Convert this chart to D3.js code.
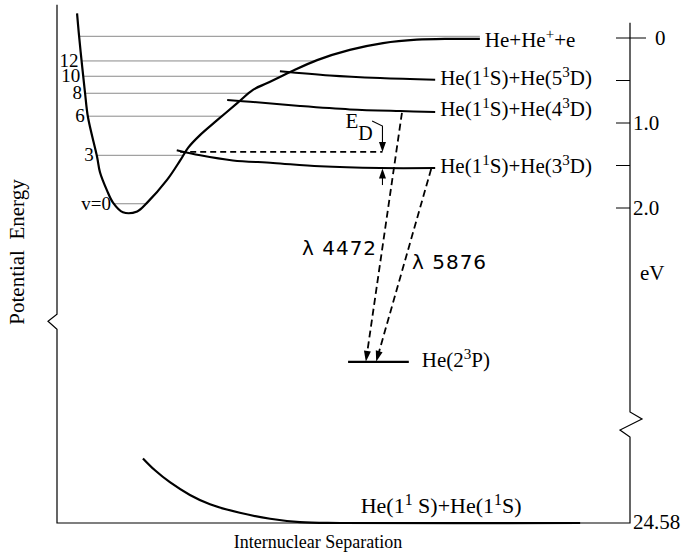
<!DOCTYPE html>
<html>
<head>
<meta charset="utf-8">
<script src="https://cdn.jsdelivr.net/npm/d3@7"></script>
<style>
  body { margin: 0; background: #fff; }
  svg { display: block; }
  text { font-family: "Liberation Serif", "Times New Roman", serif; fill: #000; }
  .sans { font-family: "DejaVu Sans", Verdana, sans-serif; letter-spacing: 1px; }
</style>
</head>
<body>
<svg id="chart" width="692" height="555"></svg>
<script>
// r = internuclear separation (arbitrary units), E = energy below the He ionization limit (eV)

// Bound excited He2 potential curve
const potentialCurve = [
  [0.35, -0.29], [0.38, -0.06], [0.44, 0.34], [0.49, 0.65], [0.54, 0.93],
  [0.70, 1.40], [0.75, 1.58], [0.87, 1.79], [0.98, 1.94], [1.15, 2.05],
  [1.40, 2.04], [1.57, 1.94], [1.92, 1.67], [2.15, 1.44], [2.29, 1.29],
  [2.50, 1.14], [2.79, 0.97], [3.14, 0.77], [3.42, 0.61], [3.67, 0.53],
  [4.07, 0.40], [4.54, 0.26], [5.11, 0.14], [5.69, 0.06], [6.28, 0.02],
  [6.86, 0.01], [7.38, 0.01]
];

// Repulsive ground-state curve He(1¹S)+He(1¹S)
const groundCurve = [
  [1.50, 23.82], [1.71, 23.96], [1.97, 24.10], [2.32, 24.25], [2.67, 24.36],
  [3.19, 24.46], [3.72, 24.53], [4.24, 24.57], [4.94, 24.58], [9.13, 24.58]
];

// Vibrational levels in the well
const vibLevels = [-0.02, 0.27, 0.45, 0.65, 0.92, 1.38, 1.95];
const vibLabels = ["", "12", "10", "8", "6", "3", "v=0"];

// Separated-atom states He(1¹S)+He(n³D)
const state5D = [[3.89, 0.39], [4.76, 0.44], [5.64, 0.47], [6.60, 0.49]];
const state4D = [[2.97, 0.73], [3.37, 0.75], [4.24, 0.80], [5.11, 0.84], [5.99, 0.86], [6.60, 0.87]];
const state3D = [[2.09, 1.32], [2.50, 1.38], [3.07, 1.44], [3.77, 1.47], [4.59, 1.51], [5.64, 1.53], [6.60, 1.53]];

// He(2³P) level
const level2P = { E: 3.81, r0: 5.08, r1: 6.14 };

// Radiative transitions to He(2³P)
const transitionNames = ["λ 4472", "λ 5876"];
const transitionFrom = [[6.02, 0.88], [6.53, 1.54]];
const transitionTo = [[5.39, 3.81], [5.57, 3.81]];

// Dissociation energy E_D marker
const eDLevel = 1.34;
const eDStart = 2.15;
const eDr = 5.68;
const eDTop = 1.035;
const eDHook = [5.50, 0.976];
const eDBottom = 1.73;
const eDTarget = 1.535;

// Right-hand energy axis
const energyTicks = [0, 0.5, 1.0, 1.5, 2.0];
const energyTickLabels = ["0", "", "1.0", "", "2.0"];
const groundEnergy = 24.58;

const svg = d3.select("#chart");

const x = d3.scaleLinear().domain([0, 10]).range([57, 630]);
// broken energy axis: upper part in eV below the limit, lower part near the ground state
const y = d3.scaleLinear().domain([0, 4.5, 23.4, groundEnergy]).range([38, 420.5, 422.7, 523]);

const smooth = d3.line().x(d => x(d[0])).y(d => y(d[1])).curve(d3.curveCatmullRom.alpha(0.5));

// ---- frame with axis breaks ----
const xL = x(0), xR = x(10), yB = y(groundEnergy);
const leftTop = y(-0.39), rightTop = y(-0.18);
const leftBreak = y(3.25), rightBreak = y(4.40);
svg.append("path")
  .attr("d", `M${xL},${leftTop}V${leftBreak}l-9,7l9,8V${yB}H${xR}V${rightBreak + 25}l-10,-7l22,-11l-12,-7V${rightTop}`)
  .attr("fill", "none").attr("stroke", "#000").attr("stroke-width", 1.2);

// ---- energy ticks ----
const tickG = svg.append("g");
energyTicks.forEach((e, i) => {
  tickG.append("line")
    .attr("x1", xR - 14).attr("x2", e === 0 ? xR + 16 : xR)
    .attr("y1", y(e)).attr("y2", y(e))
    .attr("stroke", "#000").attr("stroke-width", 1);
  if (energyTickLabels[i]) {
    tickG.append("text")
      .attr("x", e === 0 ? xR + 25 : xR + 3)
      .attr("y", y(e) + 7)
      .attr("font-size", 21)
      .text(energyTickLabels[i]);
  }
});
svg.append("text").attr("x", xR + 3).attr("y", yB + 6).attr("font-size", 21).text(groundEnergy.toFixed(2));
svg.append("text").attr("x", xR + 10).attr("y", y(2.76) + 7).attr("font-size", 21).text("eV");

// ---- axis titles ----
svg.append("text")
  .attr("transform", `translate(24,252) rotate(-90)`)
  .attr("text-anchor", "middle").attr("font-size", 21)
  .attr("xml:space", "preserve")
  .text("Potential  Energy");
svg.append("text")
  .attr("x", 318).attr("y", 548)
  .attr("text-anchor", "middle").attr("font-size", 18)
  .text("Internuclear Separation");

// ---- vibrational levels ----
const minIdx = d3.minIndex(potentialCurve, d => -d[1]);
function crossing(E, side) {
  const pts = side === "left" ? potentialCurve.slice(0, minIdx + 1) : potentialCurve.slice(minIdx);
  for (let i = 0; i < pts.length - 1; i++) {
    const [r1, e1] = pts[i], [r2, e2] = pts[i + 1];
    if ((e1 - E) * (e2 - E) <= 0 && e1 !== e2) {
      return r1 + (E - e1) / (e2 - e1) * (r2 - r1);
    }
  }
  return side === "left" ? pts[0][0] : pts[pts.length - 1][0];
}
const levelG = svg.append("g");
vibLevels.forEach((E, i) => {
  const rl = crossing(E, "left"), rr = crossing(E, "right");
  levelG.append("line")
    .attr("x1", x(rl)).attr("x2", x(rr))
    .attr("y1", y(E)).attr("y2", y(E))
    .attr("stroke", "#8a8a8a").attr("stroke-width", 1);
  if (vibLabels[i]) {
    levelG.append("text")
      .attr("x", x(rl) - 3).attr("y", y(E) + 6)
      .attr("text-anchor", "end").attr("font-size", 19)
      .text(vibLabels[i]);
  }
});

// ---- curves ----
svg.append("path").attr("d", smooth(potentialCurve))
  .attr("fill", "none").attr("stroke", "#000").attr("stroke-width", 2.2);
svg.append("path").attr("d", smooth(groundCurve))
  .attr("fill", "none").attr("stroke", "#000").attr("stroke-width", 2.2);
[state5D, state4D, state3D].forEach(s => {
  svg.append("path").attr("d", smooth(s))
    .attr("fill", "none").attr("stroke", "#000").attr("stroke-width", 2);
});
svg.append("line")
  .attr("x1", x(level2P.r0)).attr("x2", x(level2P.r1))
  .attr("y1", y(level2P.E)).attr("y2", y(level2P.E))
  .attr("stroke", "#000").attr("stroke-width", 2.2);

// ---- labels with super/subscripts ----
function richText(px, py, parts, size) {
  const t = svg.append("text").attr("x", px).attr("y", py).attr("font-size", size)
    .attr("xml:space", "preserve");
  let shift = 0;
  parts.forEach(([s, kind]) => {
    const target = kind === "sup" ? -Math.round(size * 0.38) : kind === "sub" ? Math.round(size * 0.3) : 0;
    t.append("tspan")
      .attr("dy", target - shift)
      .attr("font-size", kind === "sup" ? size * 0.72 : size)
      .text(s);
    shift = target;
  });
  return t;
}
const labelSize = 21;
richText(x(7.38) + 5, y(0.01) + 8, [["He+He"], ["+", "sup"], ["+e"]], labelSize);
richText(x(6.60) + 5, y(0.49) + 5, [["He(1"], ["1", "sup"], ["S)+He(5"], ["3", "sup"], ["D)"]], labelSize);
richText(x(6.60) + 5, y(0.87) + 4, [["He(1"], ["1", "sup"], ["S)+He(4"], ["3", "sup"], ["D)"]], labelSize);
richText(x(6.60) + 5, y(1.53) + 5, [["He(1"], ["1", "sup"], ["S)+He(3"], ["3", "sup"], ["D)"]], labelSize);
richText(x(level2P.r1) + 13, y(level2P.E) + 5, [["He(2"], ["3", "sup"], ["P)"]], labelSize);
richText(x(5.30), yB - 10, [["He(1"], ["1", "sup"], [" S)+He(1"], ["1", "sup"], ["S)"]], 22);

// ---- arrows ----
function head(tip, from, len, half) {
  const dx = tip[0] - from[0], dy = tip[1] - from[1];
  const d = Math.hypot(dx, dy), ux = dx / d, uy = dy / d;
  const bx = tip[0] - ux * len, by = tip[1] - uy * len;
  return `M${tip[0]},${tip[1]}L${bx - uy * half},${by + ux * half}L${bx + uy * half},${by - ux * half}Z`;
}

transitionNames.forEach((name, i) => {
  const a = [x(transitionFrom[i][0]), y(transitionFrom[i][1])];
  const b = [x(transitionTo[i][0]), y(transitionTo[i][1])];
  const d = Math.hypot(b[0] - a[0], b[1] - a[1]);
  const stop = [b[0] - (b[0] - a[0]) / d * 8, b[1] - (b[1] - a[1]) / d * 8];
  svg.append("line")
    .attr("x1", a[0]).attr("y1", a[1]).attr("x2", stop[0]).attr("y2", stop[1])
    .attr("stroke", "#000").attr("stroke-width", 1.8).attr("stroke-dasharray", "7,4");
  svg.append("path").attr("d", head(b, a, 11, 3.5)).attr("fill", "#000");
});
svg.append("text").attr("class", "sans").attr("x", 302).attr("y", 255).attr("font-size", 20).text(transitionNames[0]);
svg.append("text").attr("class", "sans").attr("x", 412).attr("y", 269).attr("font-size", 20).text(transitionNames[1]);

// E_D: dashed level and the two pointers
svg.append("line")
  .attr("x1", x(eDStart)).attr("x2", x(eDr))
  .attr("y1", y(eDLevel)).attr("y2", y(eDLevel))
  .attr("stroke", "#000").attr("stroke-width", 1.6).attr("stroke-dasharray", "6,4");
svg.append("path")
  .attr("d", `M${x(eDHook[0])},${y(eDHook[1])}L${x(eDr)},${y(eDTop)}V${y(eDLevel) - 6}`)
  .attr("fill", "none").attr("stroke", "#000").attr("stroke-width", 1.1);
svg.append("path").attr("d", head([x(eDr), y(eDLevel)], [x(eDr), y(eDTop)], 10, 3.5)).attr("fill", "#000");
svg.append("line")
  .attr("x1", x(eDr)).attr("x2", x(eDr)).attr("y1", y(eDBottom)).attr("y2", y(eDTarget) + 6)
  .attr("stroke", "#000").attr("stroke-width", 1.1);
svg.append("path").attr("d", head([x(eDr), y(eDTarget)], [x(eDr), y(eDBottom)], 10, 3.5)).attr("fill", "#000");
const eD = richText(x(eDr) - 37, y(eDTop) + 2, [["E"], ["D", "sub"]], 21);
eD.selectAll("tspan").filter((d, i) => i === 1).attr("font-size", 20).attr("dy", 12);
</script>
</body>
</html>
